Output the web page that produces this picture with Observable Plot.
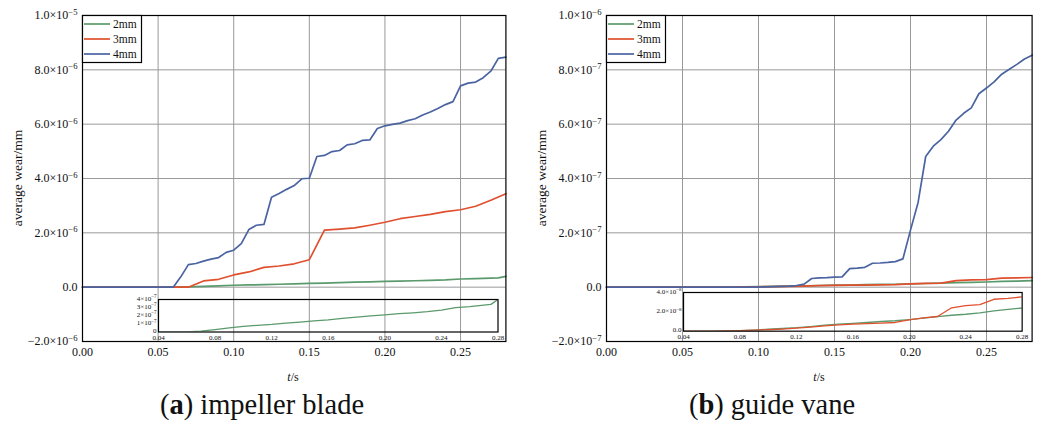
<!DOCTYPE html>
<html><head><meta charset="utf-8">
<script src="https://cdn.jsdelivr.net/npm/d3@7"></script>
<script src="https://cdn.jsdelivr.net/npm/@observablehq/plot@0.6"></script>
<style>
body{margin:0;background:#fff;font-family:"Liberation Serif","Times New Roman",Tinos,"DejaVu Serif",serif;color:#111;}
#root{position:relative;width:1040px;height:430px;overflow:hidden;}
svg text{font-family:"Liberation Serif","Times New Roman",Tinos,"DejaVu Serif",serif;}
.abs{position:absolute;}
.ylab{position:absolute;transform:translate(-50%,-50%) rotate(-90deg);white-space:nowrap;font-size:13.5px;}
.xlab{position:absolute;transform:translate(-50%,-50%);white-space:nowrap;font-size:12px;}
.cap{position:absolute;transform:translate(-50%,-50%);white-space:nowrap;font-size:28.5px;}
</style></head><body><div id="root"></div><script>
// ---------- data ----------
const series = ["2mm","3mm","4mm"];
const seriesColors = ["#5b9a6c","#e0502f","#4a63a1"];
const FONT = '"Liberation Serif","Times New Roman",Tinos,"DejaVu Serif",serif';

// (a) impeller blade
const tA4 = [0,0.06,0.065,0.07,0.075,0.08,0.085,0.09,0.095,0.10,0.105,0.11,0.115,0.12,0.125,0.13,0.135,0.14,0.145,0.15,0.155,0.16,0.165,0.17,0.175,0.18,0.185,0.19,0.195,0.20,0.205,0.21,0.215,0.22,0.225,0.23,0.235,0.24,0.245,0.25,0.255,0.26,0.265,0.27,0.275,0.28];
const wA4 = [0,0,0.38,0.83,0.87,0.96,1.03,1.09,1.28,1.36,1.60,2.12,2.28,2.31,3.31,3.45,3.60,3.74,3.99,4.01,4.81,4.85,4.99,5.03,5.24,5.28,5.40,5.42,5.84,5.94,5.99,6.04,6.13,6.20,6.34,6.45,6.58,6.72,6.83,7.41,7.51,7.55,7.71,7.95,8.42,8.47]; // x1e-6
const tA3 = [0,0.07,0.08,0.09,0.10,0.11,0.12,0.13,0.14,0.15,0.16,0.17,0.18,0.19,0.20,0.21,0.22,0.23,0.24,0.25,0.26,0.27,0.28];
const wA3 = [0,0,0.23,0.29,0.45,0.56,0.73,0.78,0.86,1.01,2.10,2.14,2.18,2.28,2.39,2.52,2.60,2.68,2.78,2.85,2.98,3.20,3.44]; // x1e-6
const tA2 = [0,0.06,0.07,0.08,0.09,0.10,0.11,0.12,0.13,0.14,0.15,0.16,0.17,0.18,0.19,0.20,0.21,0.22,0.23,0.24,0.25,0.26,0.27,0.275,0.28];
const wA2 = [0,0,0.12,0.3,0.5,0.7,0.82,0.93,1.08,1.22,1.38,1.5,1.68,1.82,1.98,2.12,2.25,2.36,2.5,2.68,3.0,3.12,3.3,3.4,4.0]; // x1e-7

// (b) guide vane
const tB4 = [0,0.10,0.105,0.11,0.115,0.12,0.125,0.13,0.135,0.14,0.145,0.15,0.155,0.16,0.165,0.17,0.175,0.18,0.185,0.19,0.195,0.20,0.205,0.21,0.215,0.22,0.225,0.23,0.235,0.24,0.245,0.25,0.255,0.26,0.265,0.27,0.275,0.28];
const wB4 = [0,0,0.01,0.02,0.03,0.04,0.06,0.11,0.32,0.34,0.35,0.37,0.38,0.68,0.70,0.73,0.88,0.89,0.91,0.94,1.04,2.1,3.12,4.81,5.19,5.43,5.74,6.15,6.40,6.60,7.12,7.33,7.56,7.84,8.02,8.2,8.4,8.54]; // x1e-7
const tB3 = [0,0.04,0.05,0.06,0.07,0.08,0.09,0.10,0.11,0.12,0.13,0.14,0.15,0.16,0.17,0.18,0.19,0.20,0.21,0.22,0.23,0.24,0.25,0.26,0.27,0.28];
const wB3 = [0,0,0,0,0.02,0.05,0.1,0.15,0.22,0.32,0.42,0.55,0.65,0.72,0.78,0.83,0.9,1.18,1.38,1.52,2.42,2.65,2.75,3.3,3.4,3.55]; // x1e-8
const tB2 = tB3;
const wB2 = [0,0,0,0,0.02,0.06,0.12,0.2,0.28,0.36,0.48,0.62,0.72,0.8,0.9,1.0,1.08,1.2,1.35,1.5,1.65,1.75,1.9,2.1,2.25,2.4]; // x1e-8

// ticks & labels
const xTicksMain = [0,0.05,0.10,0.15,0.20,0.25];
const xLabelsMain = ["0.00","0.05","0.10","0.15","0.20","0.25"];
const xTicksInset = [0.04,0.08,0.12,0.16,0.20,0.24,0.28];
const xLabelsInset = ["0.04","0.08","0.12","0.16","0.20","0.24","0.28"];
const yTicksA = [-2e-6,0,2e-6,4e-6,6e-6,8e-6,1e-5];
const yLabelsA = ["\u22122.0\u00d710^\u22126","0.0","2.0\u00d710^\u22126","4.0\u00d710^\u22126","6.0\u00d710^\u22126","8.0\u00d710^\u22126","1.0\u00d710^\u22125"];
const yTicksB = [-2e-7,0,2e-7,4e-7,6e-7,8e-7,1e-6];
const yLabelsB = ["\u22122.0\u00d710^\u22127","0.0","2.0\u00d710^\u22127","4.0\u00d710^\u22127","6.0\u00d710^\u22127","8.0\u00d710^\u22127","1.0\u00d710^\u22126"];
const yTicksInsetA = [0,1e-7,2e-7,3e-7,4e-7];
const yLabelsInsetA = ["0","1\u00d710^\u22127","2\u00d710^\u22127","3\u00d710^\u22127","4\u00d710^\u22127"];
const yTicksInsetB = [0,2e-8,4e-8];
const yLabelsInsetB = ["0.0","2.0\u00d710^\u22128","4.0\u00d710^\u22128"];

// ---------- build ----------
const rows = (t, w, unit, s) => t.map((x, i) => ({t: x, w: w[i] * unit, s}));
const dataA = [...rows(tA2, wA2, 1e-7, "2mm"), ...rows(tA3, wA3, 1e-6, "3mm"), ...rows(tA4, wA4, 1e-6, "4mm")];
const dataB = [...rows(tB2, wB2, 1e-8, "2mm"), ...rows(tB3, wB3, 1e-8, "3mm"), ...rows(tB4, wB4, 1e-7, "4mm")];
const root = document.getElementById("root");

function supify(svg){
  d3.select(svg).selectAll("text").each(function(){
    const s = this.textContent; const k = s.indexOf("^"); if (k < 0) return;
    const el = d3.select(this); el.text(s.slice(0, k));
    el.append("tspan").attr("dy", "-0.5em").attr("font-size", "0.72em").text(s.slice(k + 1));
  });
}
function place(el, left, top){ el.classList.add("abs"); el.style.left = left + "px"; el.style.top = top + "px"; root.appendChild(el); }
const lookup = (ticks, labels) => d => labels[ticks.indexOf(d)];

function mainPlot(data, yDomain, yTicks, yLabels, ml, mr){
  const svg = Plot.plot({
    width: 520, height: 390, marginLeft: ml, marginRight: mr, marginTop: 15, marginBottom: 49,
    style: {fontFamily: FONT, fontSize: "12px", background: "transparent", color: "#111"},
    x: {domain: [0, 0.28]},
    y: {domain: yDomain},
    color: {domain: series, range: seriesColors},
    marks: [
      Plot.gridX(xTicksMain.slice(1), {stroke: "#999", strokeOpacity: 1, strokeWidth: 1}),
      Plot.gridY(yTicks.slice(1, -1), {stroke: "#999", strokeOpacity: 1, strokeWidth: 1}),
      Plot.line(data, {x: "t", y: "w", stroke: "s", z: "s", strokeWidth: 1.7}),
      Plot.frame({stroke: "#000", strokeWidth: 1.2}),
      Plot.axisX(xTicksMain, {tickSize: 0, tickPadding: 6, label: null, tickFormat: lookup(xTicksMain, xLabelsMain)}),
      Plot.axisY(yTicks, {tickSize: 0, tickPadding: 5, label: null, tickFormat: lookup(yTicks, yLabels)})
    ]
  });
  supify(svg);
  return svg;
}
function insetPlot(data, fx0, fy0, fw, fh, yDomain, yTicks, yLabels){
  const ml = 34, mr = 6, mt = 5, mb = 12;
  const svg = Plot.plot({
    width: fw + ml + mr, height: fh + mt + mb, marginLeft: ml, marginRight: mr, marginTop: mt, marginBottom: mb,
    style: {fontFamily: FONT, fontSize: "7px", background: "transparent", color: "#111", overflow: "visible"},
    x: {domain: [0.04, 0.28]},
    y: {domain: yDomain},
    color: {domain: series, range: seriesColors},
    marks: [
      Plot.line(data, {x: "t", y: "w", stroke: "s", z: "s", strokeWidth: 1.3, clip: true}),
      Plot.frame({stroke: "#000", strokeWidth: 1.2}),
      Plot.axisX(xTicksInset, {tickSize: 0, tickPadding: 3, label: null, fontSize: 7, tickFormat: lookup(xTicksInset, xLabelsInset)}),
      Plot.axisY(yTicks, {tickSize: 0, tickPadding: 2, label: null, fontSize: 7, dy: -1, tickFormat: lookup(yTicks, yLabels)})
    ]
  });
  supify(svg);
  place(svg, fx0 - ml, fy0 - mt);
}
function legend(x, y){
  const svg = d3.create("svg").attr("width", 62).attr("height", 50).style("overflow", "visible");
  svg.append("rect").attr("x", 0.5).attr("y", 0.5).attr("width", 59).attr("height", 47).attr("fill", "#fff").attr("stroke", "#000").attr("stroke-width", 1.2);
  series.forEach((s, i) => {
    const yy = 9 + i * 15;
    svg.append("line").attr("x1", 2).attr("x2", 28).attr("y1", yy).attr("y2", yy).attr("stroke", seriesColors[i]).attr("stroke-width", 1.7);
    svg.append("text").attr("x", 31).attr("y", yy).attr("dy", "0.35em").attr("font-size", 11.5).attr("fill", "#111").text(s);
  });
  place(svg.node(), x, y);
}
function html(cls, x, y, inner){ const d = document.createElement("div"); d.className = cls; d.style.left = x + "px"; d.style.top = y + "px"; d.innerHTML = inner; root.appendChild(d); }

place(mainPlot(dataA, [-2e-6, 1e-5], yTicksA, yLabelsA, 82, 14.6), 0, 0);
place(mainPlot(dataB, [-2e-7, 1e-6], yTicksB, yLabelsB, 86, 8.4), 520, 0);
insetPlot(dataA.filter(d => d.s === "2mm"), 157.5, 298.5, 339.5, 32.5, [0, 4e-7], yTicksInsetA, yLabelsInsetA);
insetPlot(dataB.filter(d => d.s !== "4mm"), 683.3, 292.3, 338.7, 38.7, [0, 4e-8], yTicksInsetB, yLabelsInsetB);
legend(82, 15);
legend(606, 15);
html("ylab", 17.5, 178, "average wear/mm");
html("ylab", 541.5, 178, "average wear/mm");
html("xlab", 293, 377, "<i>t</i>/s");
html("xlab", 819, 377, "<i>t</i>/s");
html("cap", 262, 405, "(<b>a</b>) impeller blade");
html("cap", 772, 405, "(<b>b</b>) guide vane");
</script></body></html>
